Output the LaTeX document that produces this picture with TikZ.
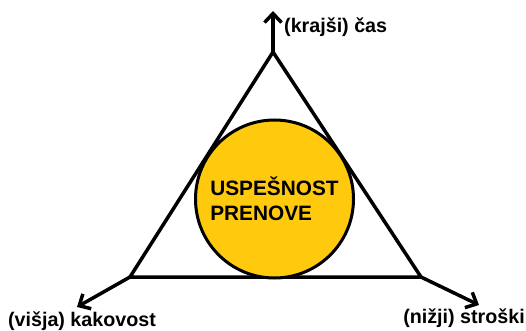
\documentclass[tikz,border=0pt]{standalone}
\usepackage{fontspec}
\setmainfont{Liberation Sans}
\usepackage{xcolor}
\usetikzlibrary{arrows.meta}
\definecolor{gold}{RGB}{255,201,14}

\begin{document}
\begin{tikzpicture}[x=1pt,y=-1pt]
		\tikzset{side/.style = {line width=3.5pt, line join=miter}}
		\tikzset{axis/.style = {line width=3.5pt, -{Straight Barb[length=9pt,width=17pt,line width=3.5pt]}}}
		\tikzset{label/.style = {font=\fontsize{19.7}{22}\selectfont\bfseries, inner sep=0pt}}

		\useasboundingbox (0,0) rectangle (526,331);

		\coordinate (T) at (273,52);
		\coordinate (L) at (130,277);
		\coordinate (R) at (421,277);
		\coordinate (Tend) at (273,11);
		\coordinate (Lend) at (77,307);
		\coordinate (Rend) at (479,305);

		\draw[side] (T) -- (L) -- (R) -- cycle;

		\node[circle, draw, fill=gold, line width=3pt, minimum size=158pt, inner sep=0pt,
			align=left, font=\fontsize{20.8}{25}\selectfont\bfseries] (success) at (274.5,199)
			{USPEŠNOST\\PRENOVE};

		\draw[axis] (T) to (Tend);
		\draw[axis] (L) to (Lend);
		\draw[axis] (R) to (Rend);

		\node[label, anchor=west] (time) at (284,27) {(krajši) čas};
		\node[label] (quality) at (82,321) {(višja) kakovost};
		\node[label] (cost) at (464,318) {(nižji) stroški};

	\end{tikzpicture}
\end{document}
